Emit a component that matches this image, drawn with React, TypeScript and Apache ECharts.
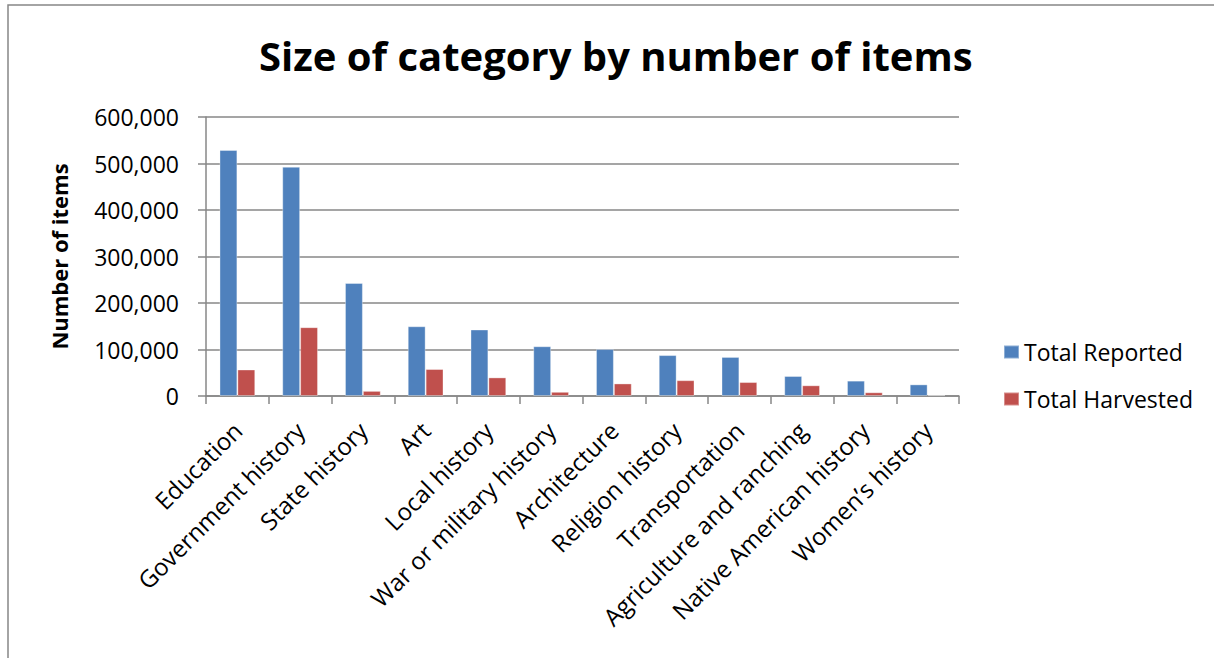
import React, { useEffect, useRef } from "react";
import * as echarts from "echarts";

const categories = [
  "Education",
  "Government history",
  "State history",
  "Art",
  "Local history",
  "War or military history",
  "Architecture",
  "Religion history",
  "Transportation",
  "Agriculture and ranching",
  "Native American history",
  "Women\u2019s history",
];
const totalReported = [529000, 493000, 243000, 150000, 143000, 107000, 101000, 88000, 84000, 43000, 33000, 25000];
const totalHarvested = [57000, 148000, 11000, 58000, 40000, 9000, 27000, 34000, 30000, 23000, 8000, 2000];
const yTicks = { min: 0, max: 600000, interval: 100000 };

const FONT = "'Open Sans', 'Noto Sans', sans-serif";
const GRAY = "#878787";

export default function App() {
  const ref = useRef<HTMLDivElement>(null);
  useEffect(() => {
    document.body.style.margin = "0";
    document.body.style.background = "#ffffff";
    const chart = echarts.init(ref.current!, null, { renderer: "svg" });
    chart.setOption({
      animation: false,
      backgroundColor: "#ffffff",
      textStyle: { fontFamily: FONT },
      title: {
        text: "Size of category by number of items",
        left: 254,
        top: 30,
        textStyle: { fontFamily: FONT, fontSize: 40, fontWeight: "bold", color: "#000" },
      },
      graphic: [
        {
          type: "rect",
          shape: { x: 8, y: 5, width: 1400, height: 800 },
          style: { fill: "none", stroke: GRAY, lineWidth: 1.5 },
          silent: true,
        },
      ],
      legend: {
        orient: "vertical",
        left: 998,
        top: 334,
        itemWidth: 15,
        itemHeight: 13,
        itemGap: 21,
        icon: "rect",
        textStyle: { fontFamily: FONT, fontSize: 23, color: "#000", lineHeight: 26 },
        data: ["Total Reported", "Total Harvested"],
      },
      grid: { left: 206, right: 255, top: 117, bottom: 262 },
      xAxis: {
        type: "category",
        data: categories,
        axisLine: { lineStyle: { color: GRAY, width: 1.5 } },
        axisTick: { show: true, alignWithLabel: false, length: 8, lineStyle: { color: GRAY, width: 1.5 } },
        axisLabel: {
          interval: 0,
          rotate: 45,
          margin: 30,
          fontFamily: FONT,
          fontSize: 24,
          color: "#000",
        },
      },
      yAxis: {
        type: "value",
        min: yTicks.min,
        max: yTicks.max,
        interval: yTicks.interval,
        name: "Number of items",
        nameLocation: "middle",
        nameRotate: 90,
        nameGap: 136,
        nameTextStyle: { fontFamily: FONT, fontSize: 22, fontWeight: "bold", color: "#000" },
        axisLine: { show: true, lineStyle: { color: GRAY, width: 1.5 } },
        axisTick: { show: true, length: 8, lineStyle: { color: GRAY, width: 1.5 } },
        splitLine: { show: true, lineStyle: { color: GRAY, width: 1.5 } },
        axisLabel: {
          margin: 27,
          fontFamily: FONT,
          fontSize: 23,
          color: "#000",
          formatter: (v: number) => v.toLocaleString("en-US"),
        },
      },
      series: [
        {
          name: "Total Reported",
          type: "bar",
          data: totalReported,
          barGap: "0%",
          barCategoryGap: "43%",
          itemStyle: { color: "#4F81BD", borderColor: "rgba(255,255,255,0.35)", borderWidth: 1 },
        },
        {
          name: "Total Harvested",
          type: "bar",
          data: totalHarvested,
          barGap: "0%",
          barCategoryGap: "43%",
          itemStyle: { color: "#C0504D", borderColor: "rgba(255,255,255,0.35)", borderWidth: 1 },
        },
      ],
    });
    return () => chart.dispose();
  }, []);
  return <div ref={ref} style={{ width: 1214, height: 658 }} />;
}
